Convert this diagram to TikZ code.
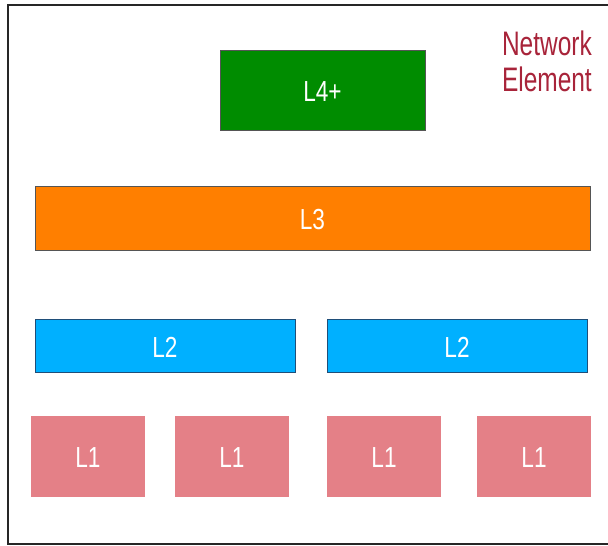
\documentclass[tikz,border=0pt]{standalone}
\usepackage{fontspec}
\setmainfont{Liberation Sans}
\newfontfamily\narrowfont[FakeStretch=0.78]{Liberation Sans}
\newfontfamily\titlefont[FakeStretch=0.72]{Liberation Sans}
\definecolor{lgreen}{HTML}{008C00}
\definecolor{lorange}{HTML}{FF7F00}
\definecolor{lblue}{HTML}{00B0FF}
\definecolor{lpink}{HTML}{E48087}
\definecolor{ltext}{HTML}{A8243A}
\definecolor{lborder}{HTML}{555555}
\definecolor{lblueborder}{HTML}{1F4E79}
\tikzset{
  layerbox/.style={draw=lborder, line width=1pt, text=white, font=\narrowfont\fontsize{29}{31}\selectfont},
  l2box/.style={layerbox, draw=lblueborder, fill=lblue},
  l1box/.style={fill=lpink, text=white, font=\narrowfont\fontsize{29}{31}\selectfont},
}
\begin{document}
\begin{tikzpicture}[x=1pt,y=-1pt]
\useasboundingbox (0,0) rectangle (608,546);
\draw[line width=1.8pt, black!85] (620,5) -- (8,5) -- (8,544) -- (620,544);
\path[layerbox, fill=lgreen] (220,50) rectangle (425,130) node[midway, yshift=-1.5pt] (l4) {L4+};
\path[layerbox, fill=lorange] (35,186) rectangle (590,250) node[midway, yshift=-1.5pt] (l3) {L3};
\path[l2box] (35,319) rectangle (295,372) node[midway, yshift=-1.5pt] (l2a) {L2};
\path[l2box] (327,319) rectangle (587,372) node[midway, yshift=-1.5pt] (l2b) {L2};
\path[l1box] (31,416) rectangle (145,497) node[midway, yshift=-1.5pt] (l1a) {L1};
\path[l1box] (175,416) rectangle (289,497) node[midway, yshift=-1.5pt] (l1b) {L1};
\path[l1box] (327,416) rectangle (441,497) node[midway, yshift=-1.5pt] (l1c) {L1};
\path[l1box] (477,416) rectangle (591,497) node[midway, yshift=-1.5pt] (l1d) {L1};
\node[anchor=north east, inner sep=0pt, align=right, text=ltext, font=\titlefont\fontsize{34}{36}\selectfont] (ne) at (592,31) {Network\\Element};
\end{tikzpicture}
\end{document}
